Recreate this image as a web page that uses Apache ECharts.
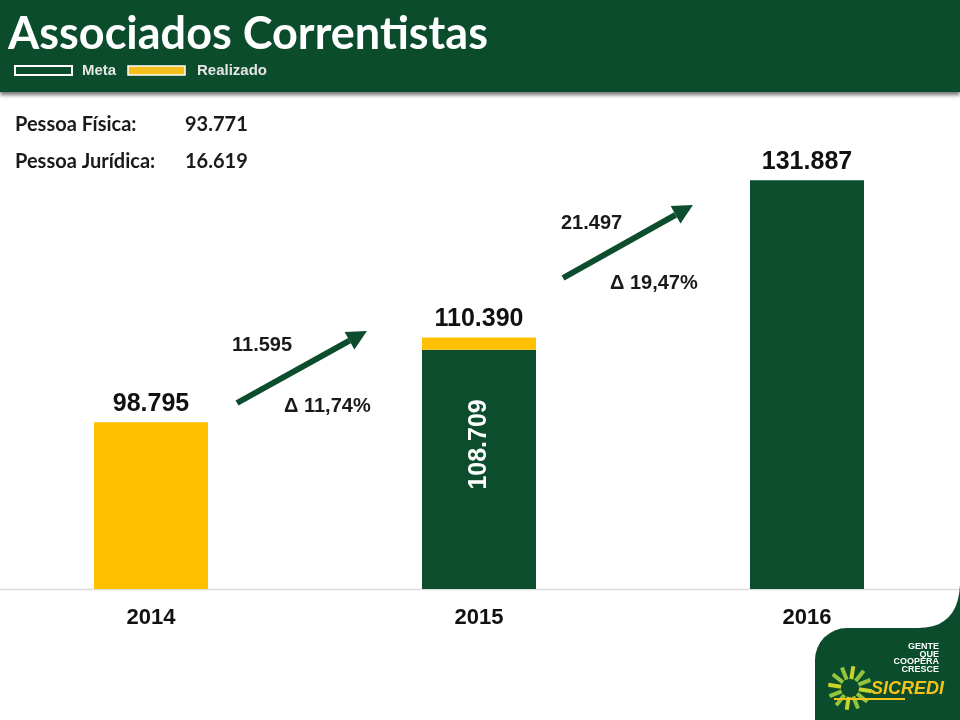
<!DOCTYPE html>
<html>
<head>
<meta charset="utf-8">
<script src="https://cdn.jsdelivr.net/npm/echarts@6/dist/echarts.min.js"></script>
<style>html,body{margin:0;padding:0;background:#fff}#c{width:960px;height:720px}</style>
</head>
<body>
<div id="c"></div>
<script>
// ---- data ----
const categories = ['2014', '2015', '2016'];
const barValues = [98795, 108709, 131887];      // main bar (realizado / meta)
const barTotals = [98795, 110390, 131887];      // value printed above each bar
const barKinds = ['realizado', 'meta', 'meta'];  // colour of main bar
const growthAbs = ['11.595', '21.497'];
const growthPct = ['11,74%', '19,47%'];
const pessoaLabels = ['Pessoa Física:', 'Pessoa Jurídica:'];
const pessoaValues = ['93.771', '16.619'];
const legendNames = ['Meta', 'Realizado'];
const titleText = 'Associados Correntistas';
const sloganLines = ['GENTE', 'QUE', 'COOPERA', 'CRESCE'];

// ---- helpers ----
const GREEN = '#0b4d2d';
const YELLOW = '#ffc000';
const fmt = v => String(v).replace(/\B(?=(\d{3})+(?!\d))/g, '.');
const gapValues = barTotals.map((t, i) => t - barValues[i]);

const chart = echarts.init(document.getElementById('c'), null, {renderer: 'canvas'});

const graphics = [];
// baseline across the slide
graphics.push({type: 'line', z: 1, shape: {x1: 0, y1: 589.5, x2: 960, y2: 589.5},
  style: {stroke: '#dcdcdc', lineWidth: 1.5}});
// header band
graphics.push({type: 'rect', shape: {x: 0, y: 0, width: 960, height: 92},
  style: {fill: '#0a4c2b', shadowColor: 'rgba(0,0,0,0.55)', shadowBlur: 4, shadowOffsetY: 3}, z: 10});
graphics.push({type: 'text', x: 8, y: 34, z: 11,
  style: {text: titleText, fill: '#fff', font: 'bold 45px Lato', textVerticalAlign: 'middle'}});
// legend
graphics.push({type: 'rect', shape: {x: 15, y: 66, width: 57, height: 9},
  style: {fill: '#0a4c2b', stroke: '#fff', lineWidth: 2}, z: 11});
graphics.push({type: 'text', x: 82, y: 71, z: 11,
  style: {text: legendNames[0], fill: '#e6e6e6', font: 'bold 15px "Liberation Sans"', textVerticalAlign: 'middle'}});
graphics.push({type: 'rect', shape: {x: 128, y: 66, width: 57, height: 9},
  style: {fill: '#f3bf1a', stroke: '#fff', lineWidth: 1.5}, z: 11});
graphics.push({type: 'text', x: 197, y: 71, z: 11,
  style: {text: legendNames[1], fill: '#e6e6e6', font: 'bold 15px "Liberation Sans"', textVerticalAlign: 'middle'}});
// pessoa texts
pessoaLabels.forEach((t, i) => {
  graphics.push({type: 'text', x: 15, y: 125 + i * 37, z: 11,
    style: {text: t, fill: '#1a1a1a', font: 'bold 20px Lato', textVerticalAlign: 'middle'}});
  graphics.push({type: 'text', x: 185, y: 125 + i * 37, z: 11,
    style: {text: pessoaValues[i], fill: '#1a1a1a', font: 'bold 20px Lato', textVerticalAlign: 'middle'}});
});
// growth arrows and annotations
const arrows = [
  {x1: 237, y1: 403, x2: 367, y2: 331, absX: 232, absY: 345, pctX: 284, pctY: 406},
  {x1: 563, y1: 278, x2: 693, y2: 205, absX: 561, absY: 223, pctX: 610, pctY: 283}
];
arrows.forEach((a, i) => {
  const ang = Math.atan2(a.y2 - a.y1, a.x2 - a.x1);
  const hl = 20, hw = 10;
  const bx = a.x2 - hl * Math.cos(ang), by = a.y2 - hl * Math.sin(ang);
  const px = -Math.sin(ang), py = Math.cos(ang);
  graphics.push({type: 'line', z: 11, shape: {x1: a.x1, y1: a.y1, x2: bx, y2: by},
    style: {stroke: GREEN, lineWidth: 6}});
  graphics.push({type: 'polygon', z: 11, shape: {points: [[a.x2, a.y2], [bx + px * hw, by + py * hw], [bx - px * hw, by - py * hw]]},
    style: {fill: GREEN}});
  graphics.push({type: 'text', x: a.absX, y: a.absY, z: 11,
    style: {text: growthAbs[i], fill: '#1a1a1a', font: 'bold 20px "Liberation Sans"', textVerticalAlign: 'middle'}});
  graphics.push({type: 'text', x: a.pctX, y: a.pctY, z: 11,
    style: {text: 'Δ ' + growthPct[i], fill: '#1a1a1a', font: 'bold 20px "Liberation Sans"', textVerticalAlign: 'middle'}});
});
// logo corner
graphics.push({type: 'rect', z: 11, shape: {x: 815, y: 628, width: 145, height: 92, r: [32, 0, 0, 0]},
  style: {fill: '#0a4c2b'}});
const cornerPts = [[960, 628], [918, 628]];
for (let t = 0; t <= 1.0001; t += 0.1) {
  const x = (1 - t) * (1 - t) * 918 + 2 * (1 - t) * t * 958 + t * t * 960;
  const y = (1 - t) * (1 - t) * 628 + 2 * (1 - t) * t * 628 + t * t * 585;
  cornerPts.push([x, y]);
}
graphics.push({type: 'polygon', z: 11, shape: {points: cornerPts}, style: {fill: '#0a4c2b'}});
sloganLines.forEach((s, i) => {
  graphics.push({type: 'text', x: 939, y: 647 + i * 7.5, z: 12,
    style: {text: s, fill: '#fff', font: 'bold 9px "Liberation Sans"', align: 'right', verticalAlign: 'middle'}});
});
// sunburst
const sx = 850, sy = 688;
for (let k = 0; k < 12; k++) {
  const ang = k * Math.PI / 6 + 0.15;
  graphics.push({type: 'line', z: 12,
    shape: {x1: sx + 9 * Math.cos(ang), y1: sy + 9 * Math.sin(ang), x2: sx + 22 * Math.cos(ang), y2: sy + 22 * Math.sin(ang)},
    style: {stroke: k % 3 === 0 ? '#c7d42a' : '#94c43d', lineWidth: 4}});
}
graphics.push({type: 'text', x: 871, y: 689, z: 12,
  style: {text: 'SICREDI', fill: '#f7c31a', font: 'italic bold 18px "Liberation Sans"', textVerticalAlign: 'middle'}});
graphics.push({type: 'line', z: 12, shape: {x1: 834, y1: 699, x2: 905, y2: 699},
  style: {stroke: '#f7c31a', lineWidth: 2}});

const option = {
  animation: false,
  backgroundColor: '#fff',
  grid: {left: 151, right: 153, top: 121, bottom: 131},
  xAxis: {
    type: 'category', data: categories, boundaryGap: false,
    axisLine: {show: false},
    axisTick: {show: false},
    axisLabel: {color: '#111', fontFamily: 'Liberation Sans', fontWeight: 'bold', fontSize: 22, margin: 18}
  },
  yAxis: {type: 'value', min: 76000, max: 140000, show: false, splitLine: {show: false}},
  series: [
    {
      type: 'bar', stack: 's', barWidth: 114,
      data: barValues.map((v, i) => ({
        value: v,
        itemStyle: {color: barKinds[i] === 'realizado' ? YELLOW : GREEN},
        label: i === 1 ? {show: true, position: 'inside', rotate: 90, offset: [25, 0],
          color: '#fff', fontFamily: 'Liberation Sans', fontWeight: 'bold', fontSize: 25,
          formatter: () => fmt(barValues[i])} : {show: false}
      }))
    },
    {
      type: 'bar', stack: 's', barWidth: 114,
      itemStyle: {color: YELLOW},
      label: {show: true, position: 'top', distance: 6, color: '#111', fontFamily: 'Liberation Sans',
        fontWeight: 'bold', fontSize: 25, formatter: p => fmt(barTotals[p.dataIndex])},
      data: gapValues
    }
  ],
  graphic: graphics
};
chart.setOption(option);
</script>
</body>
</html>
